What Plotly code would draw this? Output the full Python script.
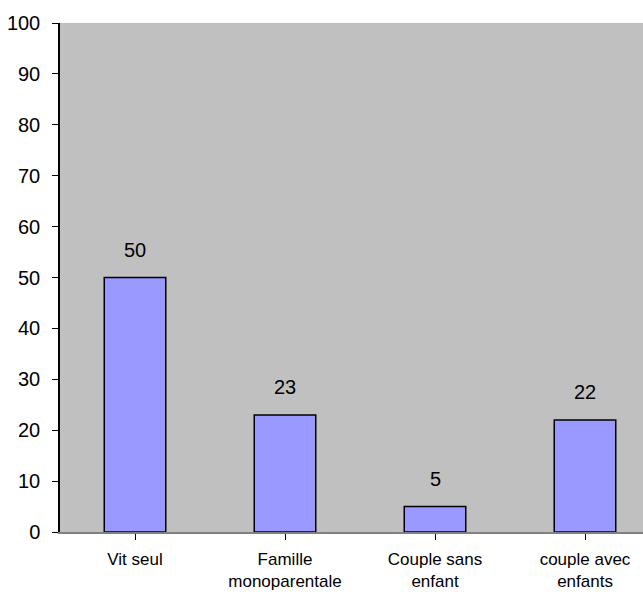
import plotly.graph_objects as go

categories = ["Vit seul", "Famille<br>monoparentale", "Couple sans<br>enfant", "couple avec<br>enfants"]
values = [50, 23, 5, 22]
y_ticks = list(range(0, 101, 10))

FONT = "Liberation Sans, Arial, sans-serif"

fig = go.Figure()
fig.add_trace(go.Bar(
    x=list(range(len(categories))),
    y=values,
    width=0.41,
    marker=dict(color="#9999FF", line=dict(color="#000000", width=1.5)),
    hoverinfo="skip",
))

for i, v in enumerate(values):
    fig.add_annotation(
        x=i, y=v, text=str(v), showarrow=False,
        yanchor="bottom", yshift=15,
        font=dict(family=FONT, size=20, color="#000000"),
    )

fig.update_layout(
    width=643, height=592,
    margin=dict(l=60, r=0, t=23, b=60, autoexpand=False),
    paper_bgcolor="#FFFFFF",
    plot_bgcolor="#C0C0C0",
    showlegend=False,
)

fig.update_xaxes(
    tickmode="array",
    tickvals=list(range(len(categories))),
    ticktext=categories,
    range=[-0.5, -0.5 + 583 / 150],
    tickson="boundaries",
    ticks="outside", ticklen=6, tickwidth=1, tickcolor="#000000",
    showline=True, linecolor="#808080", linewidth=1.5,
    showgrid=False, zeroline=False, automargin=False,
    tickfont=dict(family=FONT, size=17, color="#000000"),
    ticklabelstandoff=5,
)

fig.update_yaxes(
    range=[0, 100],
    tickmode="array", tickvals=y_ticks,
    ticks="outside", ticklen=6, tickwidth=1, tickcolor="#000000",
    showline=True, linecolor="#000000", linewidth=1.5,
    showgrid=False, zeroline=False, automargin=False,
    tickfont=dict(family=FONT, size=20, color="#000000"),
    ticklabelstandoff=8,
)

fig.write_html("out.html")
